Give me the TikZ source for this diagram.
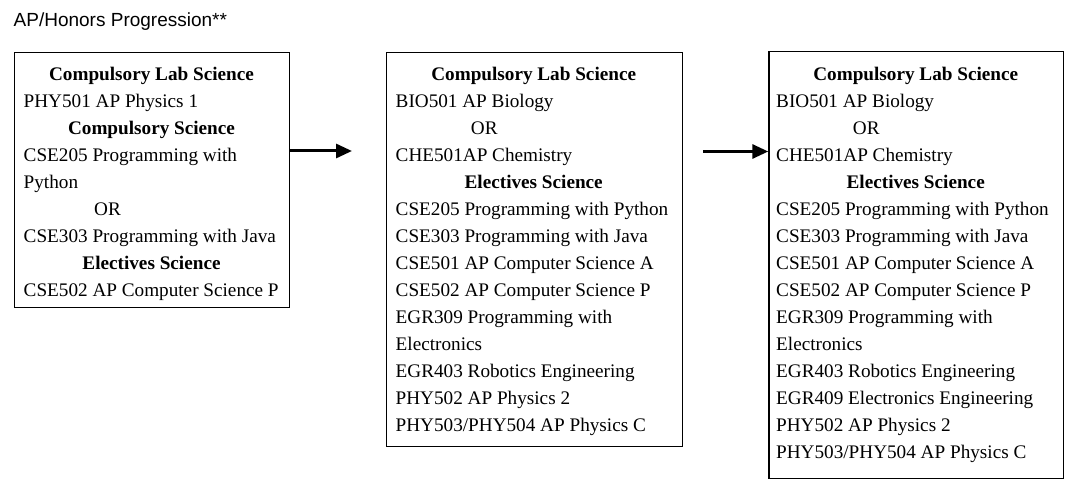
\documentclass[tikz,border=0pt]{standalone}
\usepackage{fontspec}
\setmainfont{Liberation Serif}
\newfontfamily\titlefont{Liberation Sans}
\usetikzlibrary{arrows.meta}
\begin{document}
\begin{tikzpicture}[x=1pt,y=-1pt,
  box/.style={draw,line width=1.2pt,anchor=north west,inner sep=0pt},
  txt/.style={anchor=base west,inner sep=0pt,font=\fontsize{19.2}{23}\selectfont},
  hd/.style={anchor=base,inner sep=0pt,font=\fontsize{19.2}{23}\selectfont\bfseries},
  conn/.style={line width=3pt,-{Triangle[length=16pt,width=14pt]}}]
\useasboundingbox (0,0) rectangle (1089,497);
\node[anchor=base west,inner sep=0pt,font=\titlefont\fontsize{19}{23}\selectfont] (title) at (13.5,27) {AP/Honors Progression**};

% boxes
\node[box,minimum width=275pt,minimum height=255pt] (box1) at (14,52) {};
\node[box,minimum width=296.5pt,minimum height=394pt] (box2) at (385.5,52) {};
\node[box,minimum width=294.7pt,minimum height=427pt] (box3) at (768.3,51) {};

\begin{scope}[yshift=-3.5pt]
% box 1
\node[hd]  (a1) at (151.5,77) {Compulsory Lab Science};
\node[txt] (a2) at (23.5,104) {PHY501 AP Physics 1};
\node[hd]  (a3) at (151.5,131) {Compulsory Science};
\node[txt] (a4) at (23.5,158) {CSE205 Programming with};
\node[txt] (a5) at (23.5,185) {Python};
\node[txt] (a6) at (94,212) {OR};
\node[txt] (a7) at (23.5,239) {CSE303 Programming with Java};
\node[hd]  (a8) at (151.5,266) {Electives Science};
\node[txt] (a9) at (23.5,293) {CSE502 AP Computer Science P};

% box 2
\node[hd]  (b1) at (533.7,77) {Compulsory Lab Science};
\node[txt] (b2) at (395.5,104) {BIO501 AP Biology};
\node[txt] (b3) at (470.7,131) {OR};
\node[txt] (b4) at (395.5,158) {CHE501AP Chemistry};
\node[hd]  (b5) at (533.7,185) {Electives Science};
\node[txt] (b6) at (395.5,212) {CSE205 Programming with Python};
\node[txt] (b7) at (395.5,239) {CSE303 Programming with Java};
\node[txt] (b8) at (395.5,266) {CSE501 AP Computer Science A};
\node[txt] (b9) at (395.5,293) {CSE502 AP Computer Science P};
\node[txt] (b10) at (395.5,320) {EGR309 Programming with};
\node[txt] (b11) at (395.5,347) {Electronics};
\node[txt] (b12) at (395.5,374) {EGR403 Robotics Engineering};
\node[txt] (b13) at (395.5,401) {PHY502 AP Physics 2};
\node[txt] (b14) at (395.5,428) {PHY503/PHY504 AP Physics C};

% box 3
\node[hd]  (c1) at (915.7,77) {Compulsory Lab Science};
\node[txt] (c2) at (776,104) {BIO501 AP Biology};
\node[txt] (c3) at (852.7,131) {OR};
\node[txt] (c4) at (776,158) {CHE501AP Chemistry};
\node[hd]  (c5) at (915.7,185) {Electives Science};
\node[txt] (c6) at (776,212) {CSE205 Programming with Python};
\node[txt] (c7) at (776,239) {CSE303 Programming with Java};
\node[txt] (c8) at (776,266) {CSE501 AP Computer Science A};
\node[txt] (c9) at (776,293) {CSE502 AP Computer Science P};
\node[txt] (c10) at (776,320) {EGR309 Programming with};
\node[txt] (c11) at (776,347) {Electronics};
\node[txt] (c12) at (776,374) {EGR403 Robotics Engineering};
\node[txt] (c13) at (776,401) {EGR409 Electronics Engineering};
\node[txt] (c14) at (776,428) {PHY502 AP Physics 2};
\node[txt] (c15) at (776,455) {PHY503/PHY504 AP Physics C};
\end{scope}

% connectors
\coordinate (e1) at (352,151);
\coordinate (s2) at (703,151.5);
\draw[conn] (box1.east |- e1) -- (e1);
\draw[conn] (s2) -- (box3.west |- s2);
\end{tikzpicture}
\end{document}
